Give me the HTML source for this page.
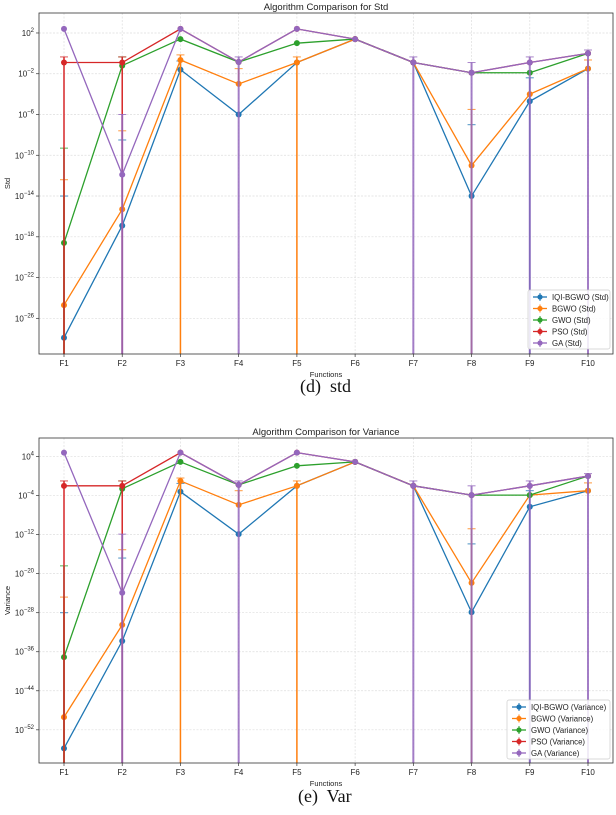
<!DOCTYPE html>
<html><head><meta charset="utf-8">
<style>
html,body{margin:0;padding:0;background:#fff;}
svg{display:block;font-family:"Liberation Sans",sans-serif;}
.cap{font-family:"Liberation Serif",serif;font-size:18px;fill:#111;}
</style></head>
<body>
<svg id="root" width="616" height="815" viewBox="0 0 616 815"></svg>
<script>
const categories = ["F1","F2","F3","F4","F5","F6","F7","F8","F9","F10"];
const seriesNames = ["IQI-BGWO","BGWO","GWO","PSO","GA"];
const seriesColors = ["#1f77b4","#ff7f0e","#2ca02c","#d62728","#9467bd"];
// Std chart (log10 values)
const stdIqi  = [-27.9,-16.9,-1.6,-6,-0.9,1.4,-0.9,-14,-4.7,-1.5];
const stdBgwo = [-24.7,-15.3,-0.65,-3,-0.9,1.4,-0.9,-11,-4,-1.5];
const stdGwo  = [-18.6,-1.2,1.4,-0.85,1.0,1.4,-0.9,-1.9,-1.9,0];
const stdPso  = [-0.9,-0.9,2.4,-0.85,2.4,1.4,-0.9,-1.9,-0.9,0];
const stdGa   = [2.4,-11.9,2.4,-0.85,2.4,1.4,-0.9,-1.9,-0.9,0];
// upper error caps (log10), null = none
const stdUpIqi  = [-14,-8.5,-0.75,null,null,null,null,-7,-2.4,null];
const stdUpBgwo = [-12.4,-7.6,-0.15,-1.5,-0.35,null,null,-5.5,null,-0.65];
const stdUpGwo  = [-9.3,-0.35,null,null,null,null,null,null,null,null];
const stdUpPso  = [-0.35,-0.35,null,null,null,null,null,null,null,null];
const stdUpGa   = [null,-6,null,-0.35,null,null,-0.35,-0.9,-0.35,0.33];
// lower error extends beyond axis (1) or not (0)
const loIqi  = [1,1,0,0,0,0,0,1,1,0];
const loBgwo = [1,1,1,0,1,0,0,1,0,0];
const loGwo  = [1,0,0,0,0,0,0,0,0,0];
const loPso  = [1,1,0,0,0,0,0,0,0,0];
const loGa   = [0,1,0,1,0,0,1,1,1,1];
// Variance chart (log10 values)
const varIqi  = [-55.8,-33.8,-3.2,-11.9,-2,2.9,-2,-27.9,-6.3,-3];
const varBgwo = [-49.4,-30.5,-1,-5.9,-2,2.9,-2,-21.9,-3.9,-3];
const varGwo  = [-37.1,-2.6,2.9,-1.8,2.1,2.9,-2,-3.9,-3.9,0];
const varPso  = [-2,-2,4.8,-1.8,4.8,2.9,-2,-3.9,-2,0];
const varGa   = [4.8,-23.9,4.8,-1.8,4.8,2.9,-2,-3.9,-2,0];
const varUpIqi  = [-28,-16.8,-1.5,null,null,null,null,-13.9,-3,null];
const varUpBgwo = [-24.8,-15.1,-0.4,-3,-1,null,null,-10.8,null,-1.4];
const varUpGwo  = [-18.4,-1,null,null,null,null,null,null,null,null];
const varUpPso  = [-1,-1,null,null,null,null,null,null,null,null];
const varUpGa   = [null,-11.9,null,-1,null,null,-1,-2,-1,0.5];
const stdTicks = [2,-2,-6,-10,-14,-18,-22,-26];
const varTicks = [4,-4,-12,-20,-28,-36,-44,-52];

const NS="http://www.w3.org/2000/svg";
const root=document.getElementById('root');
function mk(tag,attrs,parent){const e=document.createElementNS(NS,tag);for(const k in attrs)e.setAttribute(k,attrs[k]);(parent||root).appendChild(e);return e;}

function drawChart(cfg){
  const g=mk('g',{});
  
  
  const L=39,R=613,T=cfg.top,B=cfg.bottom;
  const xs=i=>64+i*(588-64)/9;
  const ys=v=>T+(cfg.ymax-v)/(cfg.ymax-cfg.ymin)*(B-T);
  // grid
  cfg.ticks.forEach(t=>{const l=mk('line',{x1:L,x2:R,y1:ys(t),y2:ys(t),stroke:'#ddd','stroke-width':0.7,'stroke-dasharray':'2,1.5'},g);
    });
  categories.forEach((c,i)=>{const l=mk('line',{x1:xs(i),x2:xs(i),y1:T,y2:B,stroke:'#ddd','stroke-width':0.7,'stroke-dasharray':'2,1.5'},g);
    });
  // series
  const clipId='clip'+cfg.name;
  const cp=mk('clipPath',{id:clipId},g);mk('rect',{x:L,y:T,width:R-L,height:B-T},cp);
  const sg=mk('g',{'clip-path':'url(#'+clipId+')'},g);
  cfg.series.forEach((s,si)=>{
    const col=seriesColors[si];
    const grp=mk('g',{},sg);
    
    
    s.vals.forEach((v,i)=>{
      const up=s.up[i];const lo=s.lo[i];
      if(up===null&&!lo)return;
      const y1=up===null?ys(v):ys(up);const y2=lo?B+5:ys(v);
      const e=mk('line',{x1:xs(i),x2:xs(i),y1:y1,y2:y2,stroke:col,'stroke-width':si==4?2:1.5,'stroke-opacity':si==4?0.85:1},grp);
      
      if(up!==null){const c=mk('line',{x1:xs(i)-4,x2:xs(i)+4,y1:ys(up),y2:ys(up),stroke:col,'stroke-width':1,'stroke-opacity':0.8},grp);
        }
    });
    const pts=s.vals.map((v,i)=>xs(i)+','+ys(v)).join(' ');
    const pl=mk('polyline',{points:pts,fill:'none',stroke:col,'stroke-width':1.3},grp);
    
    s.vals.forEach((v,i)=>{const c=mk('circle',{cx:xs(i),cy:ys(v),r:3,fill:col},grp);
      });
  });
  // axes frame
  const fr=mk('rect',{x:L,y:T,width:R-L,height:B-T,fill:'none',stroke:'#333','stroke-width':0.8},g);
  
  cfg.ticks.forEach(t=>{
    mk('line',{x1:L-3,x2:L,y1:ys(t),y2:ys(t),stroke:'#333','stroke-width':0.7},g);
    const tx=mk('text',{x:L-5,y:ys(t)+3,'text-anchor':'end','font-size':8,fill:'#222'},g);
    
    const a=mk('tspan',{},tx);a.textContent='10';
    const b=mk('tspan',{dy:-4,'font-size':6},tx);b.textContent=(t<0?'\u2212'+(-t):''+t);
  });
  categories.forEach((c,i)=>{
    mk('line',{x1:xs(i),x2:xs(i),y1:B,y2:B+3,stroke:'#333','stroke-width':0.7},g);
    const tx=mk('text',{x:xs(i),y:B+12,'text-anchor':'middle','font-size':8,fill:'#222'},g);
    tx.textContent=c;
  });
  const ti=mk('text',{x:326,y:T-3,'text-anchor':'middle','font-size':9.5,fill:'#222'},g);
  ti.textContent=cfg.title;
  const xl=mk('text',{x:326,y:B+23,'text-anchor':'middle','font-size':7.5,fill:'#222'},g);
  xl.textContent='Functions';
  const yl=mk('text',{x:10,y:(T+B)/2,'text-anchor':'middle','font-size':7.5,fill:'#222',transform:'rotate(-90 10 '+((T+B)/2)+')'},g);
  yl.textContent=cfg.ylabel;
  // legend
  const lg=mk('g',{},g);
  mk('rect',{x:cfg.legX,y:cfg.legY,width:R-3-cfg.legX,height:59,fill:'#fff','fill-opacity':0.85,stroke:'#ccc','stroke-width':0.7,rx:2},lg);
  seriesNames.forEach((n,i)=>{
    const y=cfg.legY+7+i*11.5;const e=mk('g',{},lg);
    
    mk('line',{x1:cfg.legX+5,x2:cfg.legX+19,y1:y,y2:y,stroke:seriesColors[i],'stroke-width':1.3},e);
    mk('line',{x1:cfg.legX+12,x2:cfg.legX+12,y1:y-4,y2:y+4,stroke:seriesColors[i],'stroke-width':1},e);
    mk('circle',{cx:cfg.legX+12,cy:y,r:2.6,fill:seriesColors[i]},e);
    const t=mk('text',{x:cfg.legX+24,y:y+3,'font-size':7.8,fill:'#222'},e);t.textContent=n+' ('+cfg.suffix+')';
  });
}

drawChart({name:'std-chart',top:13,bottom:354,ymax:3.96,ymin:-29.5,ticks:stdTicks,title:'Algorithm Comparison for Std',ylabel:'Std',suffix:'Std',legX:528,legY:290,
  series:[{vals:stdIqi,up:stdUpIqi,lo:loIqi},{vals:stdBgwo,up:stdUpBgwo,lo:loBgwo},{vals:stdGwo,up:stdUpGwo,lo:loGwo},{vals:stdPso,up:stdUpPso,lo:loPso},{vals:stdGa,up:stdUpGa,lo:loGa}]});
drawChart({name:'variance-chart',top:438,bottom:763,ymax:7.8,ymin:-58.8,ticks:varTicks,title:'Algorithm Comparison for Variance',ylabel:'Variance',suffix:'Variance',legX:507,legY:700,
  series:[{vals:varIqi,up:varUpIqi,lo:loIqi},{vals:varBgwo,up:varUpBgwo,lo:loBgwo},{vals:varGwo,up:varUpGwo,lo:loGwo},{vals:varPso,up:varUpPso,lo:loPso},{vals:varGa,up:varUpGa,lo:loGa}]});

const c1=mk('text',{x:300,y:392,class:'cap'});c1.textContent='(d)\u00a0 std';

const c2=mk('text',{x:298,y:802,class:'cap'});c2.textContent='(e)\u00a0 Var';

</script>
</body></html>
